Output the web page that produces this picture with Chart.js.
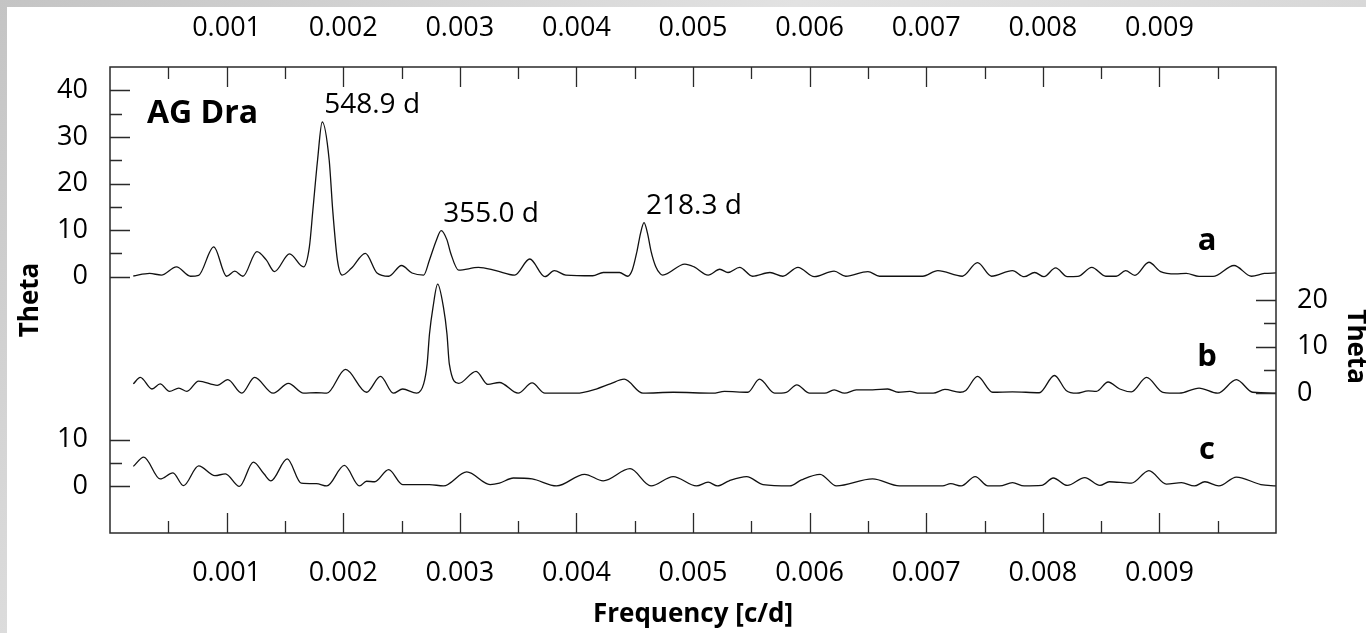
<!DOCTYPE html>
<html>
<head>
<meta charset="utf-8">
<title>AG Dra periodogram</title>
<script src="https://cdn.jsdelivr.net/npm/chart.js@4.4.1/dist/chart.umd.min.js"></script>
<style>
  html, body { margin: 0; padding: 0; width: 1366px; height: 633px; overflow: hidden; }
  body { background: linear-gradient(135deg, #c4c4c4, #e2e2e2 40%, #cdcdcd); }
  #panel { position: absolute; left: 7px; top: 7px; right: 0; bottom: 0; background: #fff; }
  #wrap { position: absolute; left: 0; top: 0; width: 1366px; height: 633px; }
</style>
</head>
<body>
<div id="panel"></div>
<div id="wrap"><canvas id="thetaChart"></canvas></div>
<script>
// frequency in c/d, theta statistic
const freqA = [0.00020, 0.00034, 0.00044, 0.00057, 0.00069, 0.00076, 0.00089, 0.00100, 0.00107, 0.00114,
  0.00126, 0.00134, 0.00141, 0.00154, 0.00166, 0.00171, 0.00174, 0.00178, 0.00182, 0.00188,
  0.00191, 0.00195, 0.00199, 0.00207, 0.00219, 0.00229, 0.00239, 0.00250, 0.00259, 0.00269,
  0.00274, 0.00280, 0.00284, 0.00289, 0.00292, 0.00299, 0.00316, 0.00331, 0.00347, 0.00360,
  0.00373, 0.00381, 0.00391, 0.00414, 0.00423, 0.00437, 0.00444, 0.00448, 0.00452, 0.00455,
  0.00458, 0.00461, 0.00464, 0.00468, 0.00472, 0.00474,
  0.00493, 0.00501, 0.00513, 0.00523, 0.00530, 0.00540, 0.00551, 0.00566, 0.00577, 0.00590,
  0.00604, 0.00621, 0.00631, 0.00650, 0.00660, 0.00697, 0.00710, 0.00731, 0.00744, 0.00756,
  0.00774, 0.00784, 0.00793, 0.00801, 0.00811, 0.00821, 0.00830, 0.00842, 0.00854, 0.00863,
  0.00871, 0.00879, 0.00891, 0.00901, 0.00914, 0.00923, 0.00934, 0.00946, 0.00964, 0.00979,
  0.00990, 0.01000];
const thetaA = [0.15, 0.7, 0.35, 2.1, 0.1, 0.3, 6.4, 0.1, 1.2, 0.1,
  5.4, 3.6, 1.1, 4.9, 2.1, 6.4, 14.3, 25.0, 33.2, 25.0,
  14.3, 3.6, 0.35, 1.8, 5.0, 0.8, 0.1, 2.4, 0.8, 0.35,
  3.6, 7.9, 9.9, 7.9, 5.2, 1.4, 2.0, 1.3, 0.35, 3.8,
  0, 1.3, 0.35, 0.2, 0.9, 0.9, 0.1, 1.5, 5.5, 9.3,
  11.6, 9.3, 5.5, 2.2, 0.6, 0.35,
  2.7, 2.1, 0.35, 1.6, 0.9, 2.0, 0.1, 0.9, 0.1, 2.0,
  0, 1.2, 0.1, 1.1, 0.1, 0.1, 1.3, 0.1, 3.0, 0.1,
  1.3, 0, 0.9, 0, 1.9, 0, 0.05, 2.0, 0.1, 0.1,
  1.3, 0.3, 3.1, 1.1, 0.6, 0.7, 0.05, 0.05, 2.4, 0.1,
  0.7, 0.8];

const freqB = [0.00020, 0.00026, 0.00036, 0.00043, 0.00051, 0.00059, 0.00066, 0.00076, 0.00092, 0.00101,
  0.00113, 0.00124, 0.00140, 0.00153, 0.00166, 0.00177, 0.00186, 0.00202, 0.00220, 0.00232,
  0.00243, 0.00251, 0.00263, 0.00269, 0.00272, 0.00274, 0.00277, 0.00281, 0.00286, 0.00289,
  0.00291, 0.00299, 0.00314, 0.00324, 0.00334, 0.00350, 0.00362, 0.00373, 0.00400, 0.00417,
  0.00429, 0.00441, 0.00457, 0.00483, 0.00517, 0.00527, 0.00547, 0.00557, 0.00570, 0.00580,
  0.00589, 0.00600, 0.00613, 0.00621, 0.00630, 0.00640, 0.00654, 0.00667, 0.00676, 0.00686,
  0.00694, 0.00706, 0.00716, 0.00729, 0.00734, 0.00744, 0.00757, 0.00774, 0.00797, 0.00810,
  0.00820, 0.00829, 0.00839, 0.00846, 0.00856, 0.00866, 0.00876, 0.00889, 0.00903, 0.00917,
  0.00934, 0.00950, 0.00966, 0.00980, 0.01000];
const thetaB = [2.0, 3.4, 0.9, 2.0, 0.4, 1.1, 0.4, 2.6, 1.7, 2.9,
  0, 3.4, 0, 2.1, 0, 0.1, 0, 5.1, 0.2, 3.6,
  0, 0.9, 0, 2.0, 6.3, 12.7, 18.4, 23.4, 18.4, 12.7,
  6.3, 2.1, 4.7, 1.9, 2.3, 0, 2.2, 0, 0, 0.9,
  2.0, 3.0, 0, 0.2, 0, 0.4, 0.2, 3.0, 0, 0.2,
  1.8, 0, 0, 0.7, 0, 0.7, 0.7, 0.9, 0.2, 0.4,
  0, 0, 0.8, 0.2, 0.6, 3.6, 0.2, 0.3, 0.1, 3.8,
  0.6, 0, 0.5, 0.4, 2.4, 0.9, 0.3, 3.4, 0.2, 0,
  1.1, 0, 2.9, 0.2, 0];

const freqC = [0.00020, 0.00029, 0.00043, 0.00054, 0.00063, 0.00076, 0.00090, 0.00099, 0.00111, 0.00123,
  0.00132, 0.00138, 0.00152, 0.00164, 0.00177, 0.00186, 0.00201, 0.00214, 0.00220, 0.00227,
  0.00239, 0.00251, 0.00274, 0.00286, 0.00306, 0.00326, 0.00334, 0.00346, 0.00362, 0.00383,
  0.00407, 0.00423, 0.00446, 0.00464, 0.00483, 0.00503, 0.00513, 0.00521, 0.00531, 0.00546,
  0.00560, 0.00583, 0.00593, 0.00609, 0.00623, 0.00654, 0.00677, 0.00714, 0.00721, 0.00730,
  0.00742, 0.00753, 0.00763, 0.00774, 0.00784, 0.00799, 0.00809, 0.00821, 0.00836, 0.00849,
  0.00857, 0.00876, 0.00891, 0.00906, 0.00919, 0.00930, 0.00939, 0.00951, 0.00966, 0.00987,
  0.01000];
const thetaC = [4.3, 6.3, 1.6, 2.9, 0.15, 4.4, 2.3, 2.7, 0, 5.2,
  2.7, 1.2, 5.9, 0.7, 0.6, 0.1, 4.5, 0.1, 1.1, 1.0,
  3.6, 0.4, 0.4, 0.1, 3.1, 0.4, 0.7, 1.8, 1.6, 0.1,
  2.6, 1.2, 3.8, 0.1, 2.1, 0.1, 0.9, 0.1, 1.2, 2.1,
  0.4, 0.1, 1.4, 2.6, 0.1, 1.6, 0.1, 0.1, 0.6, 0.1,
  2.1, 0.1, 0.1, 0.8, 0.1, 0.2, 1.8, 0.2, 1.9, 0.2,
  1.0, 0.7, 3.4, 0.5, 0.8, 0.1, 1.0, 0.1, 2.0, 0.4,
  0.1];

// labelled periods in curve a
const peakLabels = ['548.9 d', '355.0 d', '218.3 d'];
const peakFreqs = [0.00182, 0.00284, 0.00458];
const peakThetas = [33.2, 9.9, 11.6];

const xTickLabels = [0.001, 0.002, 0.003, 0.004, 0.005, 0.006, 0.007, 0.008, 0.009];
const aTickLabels = [0, 10, 20, 30, 40];
const bTickLabels = [0, 10, 20];
const cTickLabels = [0, 10];
const curveNames = ['a', 'b', 'c'];

const FONT = '"Open Sans", "Noto Sans", sans-serif';
const TICK_SIZE = 27;

function toPoints(fs, vs) {
    return fs.map((f, i) => ({ x: f, y: vs[i] }));
}

function fixedTicks(list) {
    return function (scale) {
        scale.ticks = list.map(v => ({ value: v }));
    };
}

const frameTicks = {
    id: 'frameTicks',
    afterDatasetsDraw(chart) {
        const { ctx, chartArea: ca, scales } = chart;
        ctx.save();
        ctx.strokeStyle = '#2a2a2a';
        ctx.lineWidth = 1.5;
        ctx.strokeRect(ca.left, ca.top, ca.right - ca.left, ca.bottom - ca.top);

        ctx.lineWidth = 1.3;
        ctx.beginPath();
        for (let i = 1; i < 20; i++) {
            const px = Math.round(scales.x.getPixelForValue(i * 0.0005)) + 0.5;
            const len = i % 2 === 0 ? 20 : 12;
            ctx.moveTo(px, ca.top); ctx.lineTo(px, ca.top + len);
            ctx.moveTo(px, ca.bottom); ctx.lineTo(px, ca.bottom - len);
        }
        const yTicks = [[scales.yA, 40, ca.left, 1], [scales.yC, 10, ca.left, 1], [scales.yB, 20, ca.right, -1]];
        yTicks.forEach(([s, top, x0, dir]) => {
            for (let v = 0; v <= top; v += 5) {
                const py = Math.round(s.getPixelForValue(v)) + 0.5;
                const len = v % 10 === 0 ? 20 : 12;
                ctx.moveTo(x0, py); ctx.lineTo(x0 + dir * len, py);
            }
        });
        ctx.stroke();

        ctx.fillStyle = '#000';

        // tick labels of the lower left axis (curve c)
        ctx.font = TICK_SIZE + 'px ' + FONT;
        ctx.textAlign = 'right';
        ctx.textBaseline = 'middle';
        cTickLabels.forEach(v => {
            ctx.fillText(String(v), ca.left - 22, scales.yC.getPixelForValue(v));
        });

        ctx.textBaseline = 'alphabetic';
        ctx.textAlign = 'left';
        ctx.font = 'bold 32px ' + FONT;
        ctx.fillText('AG Dra', ca.left + 37, ca.top + 56);

        ctx.font = '28px ' + FONT;
        peakLabels.forEach((t, i) => {
            const px = scales.x.getPixelForValue(peakFreqs[i]);
            const py = scales.yA.getPixelForValue(peakThetas[i]);
            ctx.fillText(t, px + 2, py - 9);
        });

        ctx.font = 'bold 31px ' + FONT;
        ctx.textAlign = 'center';
        [scales.yA, scales.yB, scales.yC].forEach((s, i) => {
            ctx.fillText(curveNames[i], ca.right - 69, s.getPixelForValue(0) - 27);
        });

        // right axis title
        ctx.save();
        ctx.font = 'bold 26px ' + FONT;
        ctx.translate(1355, scales.yB.getPixelForValue(10));
        ctx.rotate(Math.PI / 2);
        ctx.textBaseline = 'middle';
        ctx.fillText('Theta', 0, 0);
        ctx.restore();
        ctx.restore();
    }
};

const lineStyle = {
    borderColor: '#111',
    borderWidth: 1.3,
    pointRadius: 0,
    fill: false,
    tension: 0.4,
    cubicInterpolationMode: 'monotone',
    xAxisID: 'x'
};

const tickFont = { family: FONT, size: TICK_SIZE };
const noGrid = { display: false, drawTicks: false };

new Chart(document.getElementById('thetaChart'), {
    type: 'line',
    data: {
        datasets: [
            Object.assign({ label: 'a', data: toPoints(freqA, thetaA), yAxisID: 'yA' }, lineStyle),
            Object.assign({ label: 'b', data: toPoints(freqB, thetaB), yAxisID: 'yB' }, lineStyle),
            Object.assign({ label: 'c', data: toPoints(freqC, thetaC), yAxisID: 'yC' }, lineStyle)
        ]
    },
    options: {
        responsive: true,
        maintainAspectRatio: false,
        animation: false,
        layout: { padding: 0 },
        plugins: { legend: { display: false }, tooltip: { enabled: false } },
        scales: {
            x: {
                type: 'linear', position: 'bottom', min: 0, max: 0.01,
                grid: noGrid, border: { display: false },
                afterBuildTicks: fixedTicks(xTickLabels),
                afterFit: s => { s.height = 100; },
                ticks: { color: '#000', font: tickFont, padding: 24, maxRotation: 0, callback: v => v.toFixed(3) },
                title: {
                    display: true, text: 'Frequency [c/d]', color: '#000',
                    font: { family: FONT, size: 26, weight: 'bold' }, padding: { top: 0, bottom: 3 }
                }
            },
            xTop: {
                type: 'linear', position: 'top', min: 0, max: 0.01,
                grid: noGrid, border: { display: false },
                afterBuildTicks: fixedTicks(xTickLabels),
                afterFit: s => { s.height = 67; },
                ticks: { color: '#000', font: tickFont, padding: 22, maxRotation: 0, callback: v => v.toFixed(3) }
            },
            yA: {
                type: 'linear', position: 'left', min: -55, max: 45,
                grid: noGrid, border: { display: false },
                afterBuildTicks: fixedTicks(aTickLabels),
                afterFit: s => { s.width = 110; },
                ticks: { color: '#000', font: tickFont, padding: 22 },
                title: {
                    display: true, text: 'Theta', color: '#000',
                    font: { family: FONT, size: 26, weight: 'bold' }, padding: { top: 15, bottom: 0 }
                }
            },
            yC: {
                type: 'linear', position: 'left', display: false, min: -10, max: 90
            },
            yB: {
                type: 'linear', position: 'right', min: -30, max: 70,
                grid: noGrid, border: { display: false },
                afterBuildTicks: fixedTicks(bTickLabels),
                afterFit: s => { s.width = 90; },
                ticks: { color: '#000', font: tickFont, padding: 21 }
            }
        }
    },
    plugins: [frameTicks]
});
</script>
</body>
</html>
